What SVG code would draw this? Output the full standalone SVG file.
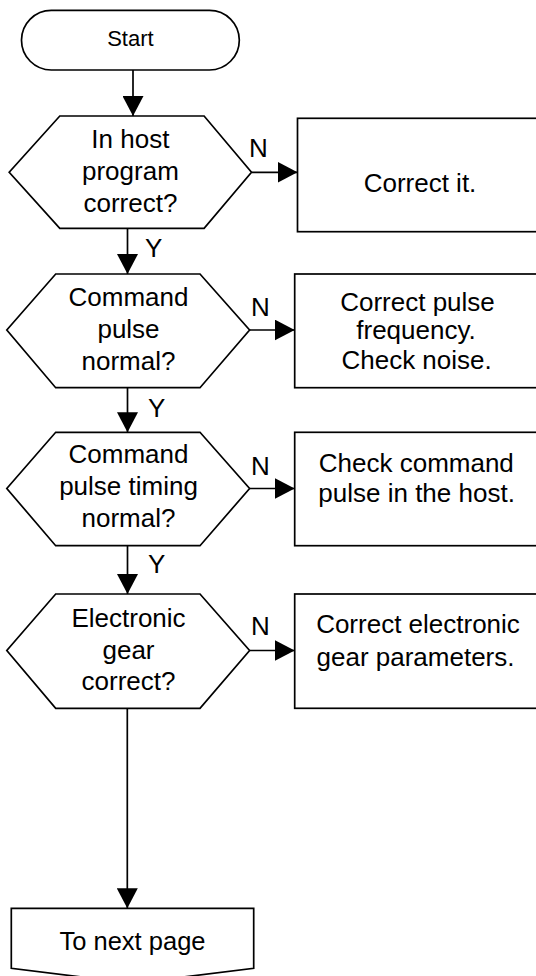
<svg xmlns="http://www.w3.org/2000/svg" width="536" height="976" viewBox="0 0 536 976">
<defs>
<style>
.s{fill:#fff;stroke:#000;stroke-width:1.7}
.c{fill:none;stroke:#000;stroke-width:1.7}
text{font-family:"Liberation Sans",Arial,sans-serif;font-size:26px;fill:#000}
.m{text-anchor:middle}
</style>
<marker id="ah" markerUnits="userSpaceOnUse" markerWidth="20" markerHeight="21" refX="20" refY="10.5" orient="auto" viewBox="0 0 20 21">
<path d="M0,0 L20,10.5 L0,21 Z" fill="#000"/>
</marker>
</defs>
<rect width="536" height="976" fill="#fff"/>
<g id="connectors">
<path class="c" d="M133,70 V116" marker-end="url(#ah)"/>
<path class="c" d="M127.5,228.3 V274" marker-end="url(#ah)"/>
<path class="c" d="M127.5,387.7 V432.3" marker-end="url(#ah)"/>
<path class="c" d="M127.5,545.7 V594" marker-end="url(#ah)"/>
<path class="c" d="M127.3,708.3 V908.3" marker-end="url(#ah)"/>
<path class="c" d="M251.5,172.3 H297.5" marker-end="url(#ah)"/>
<path class="c" d="M249.6,330 H294.7" marker-end="url(#ah)"/>
<path class="c" d="M249.6,488.5 H294.7" marker-end="url(#ah)"/>
<path class="c" d="M249.6,650.5 H294.7" marker-end="url(#ah)"/>
<text x="249" y="157">N</text>
<text x="251" y="316">N</text>
<text x="251" y="475">N</text>
<text x="251" y="635">N</text>
<text x="145" y="257">Y</text>
<text x="148" y="417">Y</text>
<text x="148" y="573">Y</text>
</g>
<g id="start">
<rect class="s" x="21.5" y="10.3" width="217.8" height="59.7" rx="29.8"/>
<text class="m" x="130.4" y="45.5" style="font-size:22px">Start</text>
</g>
<g id="q1">
<polygon class="s" points="59.8,116 204.1,116 251.5,172.3 204.1,228.3 59.8,228.3 9.2,172.3"/>
<text class="m" x="130.4" y="148.3">In host</text>
<text class="m" x="130.4" y="180">program</text>
<text class="m" x="130.4" y="211.7">correct?</text>
</g>
<g id="a1">
<rect class="s" x="297.5" y="118.3" width="246" height="113.4"/>
<text class="m" x="420" y="191.7">Correct it.</text>
</g>
<g id="q2">
<polygon class="s" points="55.7,274 200,274 249.6,330 200,387.7 55.7,387.7 6.8,330"/>
<text class="m" x="128.5" y="306">Command</text>
<text class="m" x="128.5" y="338">pulse</text>
<text class="m" x="128.5" y="370">normal?</text>
</g>
<g id="a2">
<rect class="s" x="294.7" y="274" width="250" height="113.7"/>
<text class="m" x="417.5" y="311">Correct pulse</text>
<text class="m" x="416" y="338.5">frequency.</text>
<text class="m" x="416.6" y="369">Check noise.</text>
</g>
<g id="q3">
<polygon class="s" points="55.7,432.3 200,432.3 249.6,488.5 200,545.7 55.7,545.7 6.8,488.5"/>
<text class="m" x="128.5" y="463.3">Command</text>
<text class="m" x="128.5" y="495">pulse timing</text>
<text class="m" x="128.5" y="527">normal?</text>
</g>
<g id="a3">
<rect class="s" x="294.7" y="432.3" width="250" height="113.4"/>
<text class="m" x="416.3" y="471.7">Check command</text>
<text class="m" x="416.6" y="501.7">pulse in the host.</text>
</g>
<g id="q4">
<polygon class="s" points="55.7,594 200,594 249.6,650.5 200,708.3 55.7,708.3 6.8,650.5"/>
<text class="m" x="128.5" y="626.7">Electronic</text>
<text class="m" x="128.5" y="658.5">gear</text>
<text class="m" x="128.5" y="690">correct?</text>
</g>
<g id="a4">
<rect class="s" x="294.7" y="594" width="250" height="114.3"/>
<text class="m" x="418" y="633.3">Correct electronic</text>
<text class="m" x="415.5" y="665.5">gear parameters.</text>
</g>
<g id="next">
<path class="s" d="M11.3,908.3 H253.7 V968.3 L132.5,983.3 L11.3,968.3 Z"/>
<text class="m" x="132.5" y="950" style="font-size:25.5px">To next page</text>
</g>
</svg>
